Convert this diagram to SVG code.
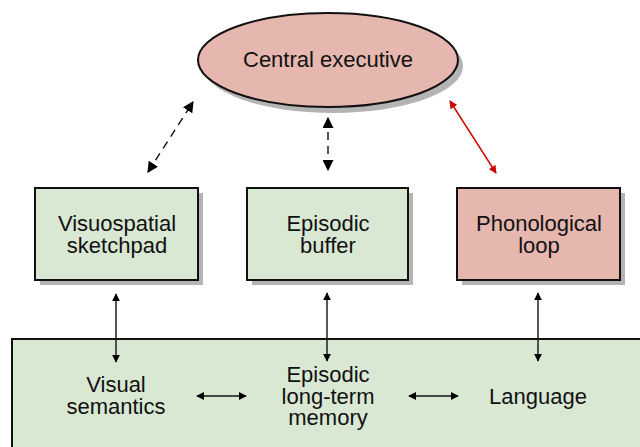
<svg xmlns="http://www.w3.org/2000/svg" width="640" height="447" viewBox="0 0 640 447">
<defs>
<style>
.t{font-family:"Liberation Sans",Arial,sans-serif;font-size:22px;fill:#111;text-anchor:middle}
.sh{fill:#b4b4b4}
.g{fill:#d9e8d3;stroke:#111;stroke-width:2}
.r{fill:#e6b7ae;stroke:#111;stroke-width:2}
.c{stroke:#111;stroke-width:1.4;fill:none}
.d{stroke:#111;stroke-width:1.4;fill:none;stroke-dasharray:8,6}
</style>
<marker id="a" viewBox="0 0 10 10" refX="9" refY="5" markerWidth="8" markerHeight="8" markerUnits="userSpaceOnUse" orient="auto-start-reverse"><path d="M0,0L10,5L0,10z" fill="#000"/></marker>
<marker id="ar" viewBox="0 0 10 10" refX="9" refY="5" markerWidth="8" markerHeight="8" markerUnits="userSpaceOnUse" orient="auto-start-reverse"><path d="M0,0L10,5L0,10z" fill="#cc0000"/></marker>
<marker id="ab" viewBox="0 0 10 10" refX="9" refY="5" markerWidth="11" markerHeight="11" markerUnits="userSpaceOnUse" orient="auto-start-reverse"><path d="M0,0L10,5L0,10z" fill="#000"/></marker>
</defs>
<g id="ltm">
<rect x="12" y="339" width="640" height="120" class="g"/>
<text class="t" x="116" y="392">Visual</text>
<text class="t" x="116" y="414">semantics</text>
<text class="t" x="328" y="382">Episodic</text>
<text class="t" x="328" y="404">long-term</text>
<text class="t" x="328" y="425">memory</text>
<text class="t" x="538" y="404">Language</text>
</g>
<g id="central">
<ellipse cx="333" cy="66" rx="130" ry="47" class="sh"/>
<ellipse cx="328" cy="60" rx="130" ry="47" class="r"/>
<text class="t" x="328" y="67">Central executive</text>
</g>
<g id="visuo">
<rect x="40" y="193" width="163" height="92" class="sh"/>
<rect x="35" y="188" width="163" height="92" class="g"/>
<text class="t" x="117" y="231">Visuospatial</text>
<text class="t" x="117" y="253">sketchpad</text>
</g>
<g id="buffer">
<rect x="252" y="193" width="161" height="92" class="sh"/>
<rect x="247" y="188" width="161" height="92" class="g"/>
<text class="t" x="328" y="231">Episodic</text>
<text class="t" x="328" y="253">buffer</text>
</g>
<g id="phono">
<rect x="462" y="193" width="163" height="92" class="sh"/>
<rect x="457" y="188" width="163" height="92" class="r"/>
<text class="t" x="539" y="231">Phonological</text>
<text class="t" x="539" y="253">loop</text>
</g>
<g id="connectors">
<line x1="148" y1="172" x2="193" y2="102" class="d" marker-start="url(#ab)" marker-end="url(#ab)"/>
<line x1="328" y1="118" x2="328" y2="170" class="d" stroke-dasharray="0,17,8,40" marker-start="url(#ab)" marker-end="url(#ab)"/>
<line x1="450" y1="101" x2="496" y2="173" stroke="#cc0000" stroke-width="1.4" marker-start="url(#ar)" marker-end="url(#ar)"/>
<line x1="116" y1="294" x2="116" y2="362" class="c" marker-start="url(#a)" marker-end="url(#a)"/>
<line x1="327" y1="293" x2="327" y2="361" class="c" marker-start="url(#a)" marker-end="url(#a)"/>
<line x1="538" y1="293" x2="538" y2="361" class="c" marker-start="url(#a)" marker-end="url(#a)"/>
<line x1="197" y1="396" x2="246" y2="396" class="c" marker-start="url(#a)" marker-end="url(#a)"/>
<line x1="409" y1="396" x2="458" y2="396" class="c" marker-start="url(#a)" marker-end="url(#a)"/>
</g>
</svg>
